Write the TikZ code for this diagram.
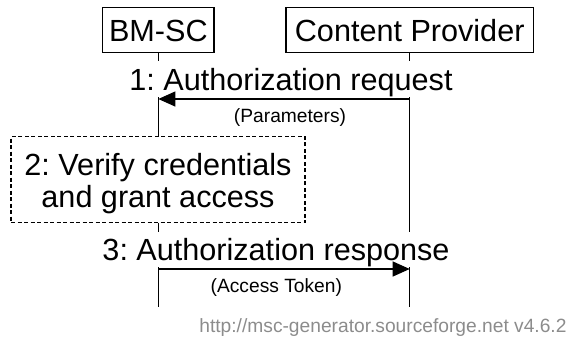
\documentclass[tikz,border=0pt]{standalone}
\usepackage{fontspec}
\setmainfont{Liberation Sans}
\usetikzlibrary{arrows.meta}
\newcommand\msclarge{\fontsize{30.6}{36}\selectfont}
\newcommand\mscsmall{\fontsize{19.2}{23}\selectfont}
\definecolor{footgray}{RGB}{140,140,140}
\frenchspacing
\begin{document}
\begin{tikzpicture}[x=1pt,y=-1pt,
  entity/.style={draw,line width=1.2pt,inner sep=0pt,minimum height=45.4pt,text height=23.4pt,text depth=0pt,font=\msclarge},
  lifeline/.style={line width=1.2pt},
  msg/.style={line width=1.2pt,-{Triangle[length=17pt,width=15pt]}},
  lbl/.style={anchor=base,inner sep=0pt,font=\msclarge},
  sublbl/.style={anchor=base,inner sep=0pt,font=\mscsmall},
  notebox/.style={draw,line width=1.2pt,dash pattern=on 4pt off 2.5pt,inner sep=0pt},
  footer/.style={anchor=base east,inner sep=0pt,font=\mscsmall,text=footgray}]
\useasboundingbox (0,0) rectangle (570,338);
% entities
\node[entity,minimum width=111.3pt] (bm) at (158.35,30) {BM-SC};
\node[entity,minimum width=247.3pt] (cp) at (409.7,30) {Content Provider};
% note box
\node[notebox,minimum width=294pt,minimum height=86pt] (verify) at (158,179.7) {};
\node[lbl] (verifyA) at (158,175) {2: Verify credentials};
\node[lbl] (verifyB) at (158,207.7) {and grant access};
% lifeline coordinates
\coordinate (bmA) at (158.35,61);
\coordinate (bmB) at (158.35,97);
\coordinate (bmC) at (158.35,231.7);
\coordinate (bmD) at (158.35,267);
\coordinate (bmE) at (158.35,306.7);
\coordinate (cpA) at (409.7,61);
\coordinate (cpB) at (409.7,97);
\coordinate (cpC) at (409.7,231.7);
\coordinate (cpD) at (409.7,267);
\coordinate (cpE) at (409.7,306.7);
% lifelines
\draw[lifeline] (bm.south) -- (bmA);
\draw[lifeline] (bmB) -- (bm |- verify.north);
\draw[lifeline] (bm |- verify.south) -- (bmC);
\draw[lifeline] (bmD) -- (bmE);
\draw[lifeline] (cp.south) -- (cpA);
\draw[lifeline] (cpB) -- (cpC);
\draw[lifeline] (cpD) -- (cpE);
% messages
\coordinate (m1s) at (409.7,99);
\coordinate (m1e) at (158.35,99);
\coordinate (m3s) at (158.35,269);
\coordinate (m3e) at (409.7,269);
\draw[msg] (m1s) -- (m1e);
\draw[msg] (m3s) -- (m3e);
\node[lbl] (l1) at (291,90.7) {1: Authorization request};
\node[sublbl] (p1) at (290,122.5) {(Parameters)};
\node[lbl] (l3) at (276,260.7) {3: Authorization response};
\node[sublbl] (p3) at (276.3,292.7) {(Access Token)};
% footer
\node[footer] (foot) at (566.7,332) {http://msc-generator.sourceforge.net v4.6.2};
\end{tikzpicture}
\end{document}
